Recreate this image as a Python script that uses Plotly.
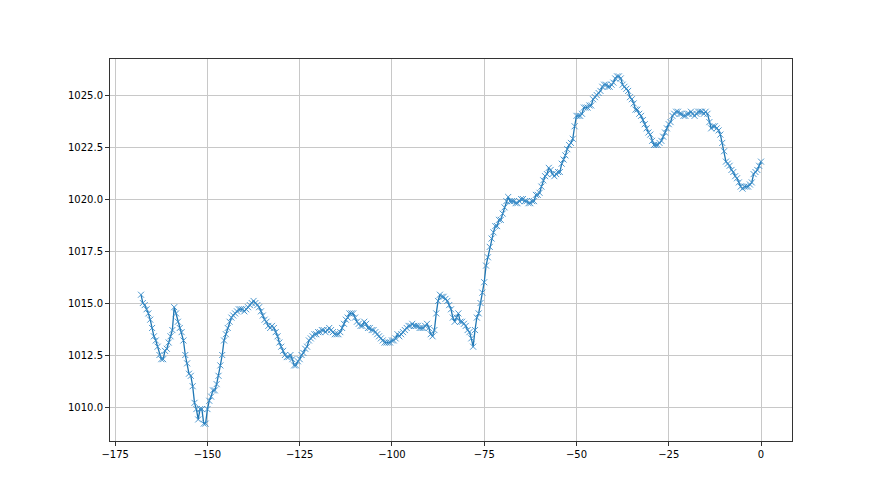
import plotly.graph_objects as go

pressure = [
    1015.4, 1015.0, 1014.9, 1014.7, 1014.5, 1014.2, 1013.8, 1013.4, 1013.2, 1012.9,
    1012.5, 1012.3, 1012.3, 1012.7, 1012.8, 1013.1, 1013.4, 1013.7, 1014.8, 1014.5,
    1014.1, 1013.8, 1013.6, 1013.2, 1012.5, 1012.1, 1011.6, 1011.5, 1011.0, 1010.2,
    1009.9, 1009.4, 1009.9, 1009.9, 1009.2, 1009.2, 1009.9, 1010.3, 1010.5, 1010.8,
    1010.8, 1011.1, 1011.5, 1012.0, 1012.5, 1013.2, 1013.5, 1013.8, 1014.1, 1014.3,
    1014.4, 1014.5, 1014.6, 1014.7, 1014.7, 1014.7, 1014.6, 1014.7, 1014.8, 1014.9,
    1015.0, 1015.1, 1015.0, 1014.9, 1014.8, 1014.6, 1014.4, 1014.2, 1014.1, 1013.9,
    1013.8, 1013.9, 1013.8, 1013.6, 1013.4, 1013.1, 1012.9, 1012.7, 1012.5, 1012.4,
    1012.4, 1012.5, 1012.3, 1012.0, 1012.0, 1012.2, 1012.3, 1012.5, 1012.6, 1012.8,
    1012.9, 1013.2, 1013.3, 1013.4, 1013.5, 1013.5, 1013.6, 1013.6, 1013.7, 1013.7,
    1013.6, 1013.7, 1013.8, 1013.7, 1013.6, 1013.5, 1013.5, 1013.5, 1013.6, 1013.8,
    1014.0, 1014.2, 1014.3, 1014.5, 1014.5, 1014.5, 1014.3, 1014.1, 1014.0, 1013.9,
    1013.9, 1014.1, 1014.0, 1013.8, 1013.8, 1013.7, 1013.7, 1013.6, 1013.5, 1013.4,
    1013.3, 1013.2, 1013.1, 1013.1, 1013.1, 1013.1, 1013.2, 1013.2, 1013.3, 1013.5,
    1013.4, 1013.5, 1013.6, 1013.7, 1013.8, 1013.9, 1013.9, 1014.0, 1013.9, 1013.9,
    1013.9, 1013.8, 1013.8, 1013.8, 1013.9, 1014.0, 1013.8, 1013.5, 1013.4, 1013.7,
    1014.5, 1015.1, 1015.4, 1015.3, 1015.3, 1015.2, 1015.1, 1014.9, 1014.7, 1014.3,
    1014.1, 1014.3, 1014.5, 1014.1, 1014.1, 1014.0, 1013.9, 1013.7, 1013.6, 1013.3,
    1012.9, 1013.7, 1014.3, 1014.5, 1015.0, 1015.5, 1016.0, 1016.8, 1017.2, 1017.7,
    1018.1, 1018.4, 1018.7, 1018.7, 1019.0, 1019.0, 1019.3, 1019.6, 1019.9, 1020.1,
    1019.9, 1019.9, 1019.9, 1019.8, 1019.8, 1019.9, 1020.0, 1020.0, 1019.9, 1019.9,
    1019.8, 1019.8, 1019.9, 1019.9, 1020.2, 1020.2, 1020.3, 1020.6, 1020.9, 1021.1,
    1021.2, 1021.5, 1021.4, 1021.2, 1021.1, 1021.2, 1021.3, 1021.3, 1021.7, 1021.9,
    1022.1, 1022.4, 1022.6, 1022.7, 1022.9, 1023.5, 1024.0, 1024.0, 1024.0, 1024.1,
    1024.4, 1024.4, 1024.4, 1024.5, 1024.5, 1024.8, 1024.9, 1025.0, 1025.1, 1025.2,
    1025.4, 1025.5, 1025.5, 1025.4, 1025.4, 1025.5, 1025.6, 1025.8, 1025.9, 1025.9,
    1025.8, 1025.5, 1025.4, 1025.3, 1025.2, 1024.9, 1024.8, 1024.6, 1024.3, 1024.3,
    1024.1, 1024.0, 1023.8, 1023.6, 1023.4, 1023.2, 1023.1, 1022.8, 1022.6, 1022.6,
    1022.6, 1022.7, 1022.8, 1023.0, 1023.2, 1023.4, 1023.6, 1023.7, 1024.0, 1024.1,
    1024.2, 1024.2, 1024.1, 1024.1, 1024.0, 1024.0, 1024.1, 1024.1, 1024.2, 1024.1,
    1024.0, 1024.1, 1024.2, 1024.2, 1024.2, 1024.1, 1024.2, 1024.1, 1023.7, 1023.4,
    1023.5, 1023.5, 1023.4, 1023.3, 1023.1, 1022.7, 1022.3, 1021.8, 1021.7, 1021.6,
    1021.4, 1021.3, 1021.1, 1021.0, 1020.8, 1020.6, 1020.5, 1020.6, 1020.6, 1020.6,
    1020.7, 1020.8, 1021.2, 1021.3, 1021.4, 1021.6, 1021.8,
]
step_hours = 0.5
n = len(pressure)
hours = [-(n - 1 - i) * step_hours for i in range(n)]

x_ticks = [-175, -150, -125, -100, -75, -50, -25, 0]
x_tick_labels = ["\u2212175", "\u2212150", "\u2212125", "\u2212100", "\u221275", "\u221250", "\u221225", "0"]
y_ticks = [1010.0, 1012.5, 1015.0, 1017.5, 1020.0, 1022.5, 1025.0]
y_tick_labels = [f"{v:.1f}" for v in y_ticks]

xmin, xmax = min(hours), max(hours)
ymin, ymax = min(pressure), max(pressure)
xpad = (xmax - xmin) * 0.05
ypad = (ymax - ymin) * 0.05

fig = go.Figure()
fig.add_trace(go.Scatter(
    x=hours, y=pressure, mode="lines+markers",
    line=dict(color="#1f77b4", width=1.3),
    marker=dict(symbol="x-thin", size=6, color="#3a8cc8",
                line=dict(width=0.9, color="#3a8cc8")),
    showlegend=False,
))

axis_common = dict(
    showline=True, linecolor="#333333", linewidth=1, mirror=True,
    ticks="outside", ticklen=4, tickcolor="#333333", tickwidth=1,
    showgrid=True, gridcolor="#c8c8c8", gridwidth=1,
    zeroline=False,
    tickfont=dict(family="DejaVu Sans", size=10, color="black"),
)

fig.update_xaxes(range=[xmin - xpad, xmax + xpad], tickvals=x_ticks,
                 ticktext=x_tick_labels, **axis_common)
fig.update_yaxes(range=[ymin - ypad, ymax + ypad], tickvals=y_ticks,
                 ticktext=y_tick_labels, **axis_common)

fig.update_layout(
    width=872, height=487,
    margin=dict(l=102, r=88, t=51, b=54),
    paper_bgcolor="white", plot_bgcolor="white",
)

fig.write_html("out.html")
